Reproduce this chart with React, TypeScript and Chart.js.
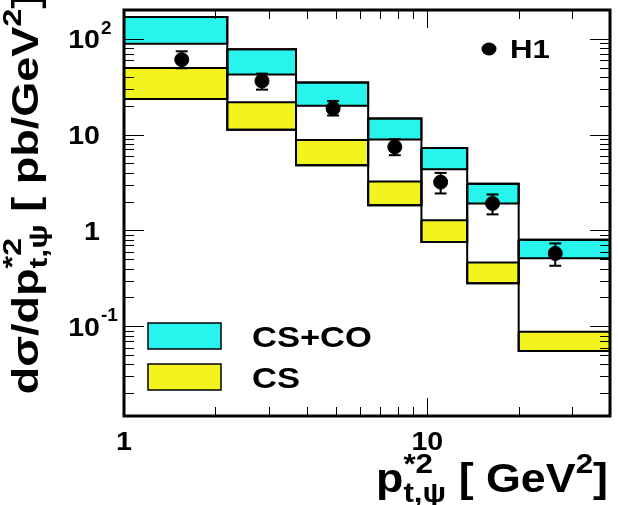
import React, { useEffect, useRef } from 'react';
import { Chart, registerables } from 'chart.js';

Chart.register(...registerables);

// ---- data ----
const binEdges = [1, 2.19, 3.69, 6.38, 9.56, 13.53, 20, 40];
const csCoUpper = [168, 77.4, 34.8, 14.7, 7.25, 3.06, 0.798];
const csCoLower = [88.7, 42.2, 20.0, 8.87, 4.35, 1.91, 0.511];
const csUpper = [49.4, 21.7, 8.78, 3.24, 1.28, 0.464, 0.0879];
const csLower = [23.5, 11.2, 4.79, 1.83, 0.755, 0.281, 0.0553];
const h1X = [1.55, 2.85, 4.89, 7.81, 11.06, 16.4, 26.4];
const h1Y = [60.4, 36.2, 18.7, 7.43, 3.19, 1.91, 0.575];
const h1ErrHigh = [73.8, 43.2, 22.4, 8.93, 3.98, 2.37, 0.732];
const h1ErrLow = [49.1, 29.4, 15.8, 6.09, 2.43, 1.47, 0.428];

const xMin = 1;
const xMax = 40;
const yMin = 0.0116;
const yMax = 199;

const yTickValues = [0.1, 1, 10, 100];
const yTickBase = ['10', '1', '10', '10'];
const yTickExp = ['-1', '', '', '2'];
const xTickValues = [1, 10];
const xTickLabels = ['1', '10'];

const seriesLabels = ['CS+CO', 'CS', 'H1'];

const CYAN = '#27f5ed';
const YELLOW = '#f3f31d';
const FAMILY = '"Liberation Sans", Arial, Helvetica, sans-serif';

type Part = { t?: string; size?: number; dy?: number; stack?: Part[] };

function fnt(size: number) {
  return `bold ${size}px ${FAMILY}`;
}

function partWidth(ctx: CanvasRenderingContext2D, p: Part): number {
  if (p.stack) return Math.max(...p.stack.map((q) => partWidth(ctx, q)));
  ctx.font = fnt(p.size || 20);
  return ctx.measureText(p.t || '').width;
}

function richWidth(ctx: CanvasRenderingContext2D, parts: Part[]) {
  return parts.reduce((s, p) => s + partWidth(ctx, p), 0);
}

function drawParts(ctx: CanvasRenderingContext2D, parts: Part[], x: number, y: number) {
  let cx = x;
  for (const p of parts) {
    if (p.stack) {
      for (const q of p.stack) {
        ctx.font = fnt(q.size || 20);
        ctx.fillText(q.t || '', cx, y + (q.dy || 0));
      }
    } else {
      ctx.font = fnt(p.size || 20);
      ctx.fillText(p.t || '', cx, y + (p.dy || 0));
    }
    cx += partWidth(ctx, p);
  }
}

// draw rich text; align: 'left' | 'right' | 'center', anchored at (x, y baseline), stretched by sx
function drawRich(
  ctx: CanvasRenderingContext2D,
  parts: Part[],
  x: number,
  y: number,
  align: string,
  sx: number,
  rot = 0
) {
  ctx.save();
  ctx.translate(x, y);
  if (rot) ctx.rotate(rot);
  ctx.scale(sx, 1);
  ctx.textAlign = 'left';
  ctx.textBaseline = 'alphabetic';
  ctx.fillStyle = '#000';
  const w = richWidth(ctx, parts);
  const x0 = align === 'right' ? -w : align === 'center' ? -w / 2 : 0;
  drawParts(ctx, parts, x0, 0);
  ctx.restore();
}

const framePlugin = {
  id: 'rootFrame',
  afterDraw(chart: any) {
    const ctx: CanvasRenderingContext2D = chart.ctx;
    const ca = chart.chartArea;
    const xs = chart.scales.x;
    const ys = chart.scales.y;
    ctx.save();

    // ticks
    ctx.strokeStyle = '#000';
    ctx.lineWidth = 1;
    ctx.beginPath();
    for (let e = -2; e <= 2; e++) {
      for (let k = 1; k <= 9; k++) {
        const v = k * Math.pow(10, e);
        if (v < yMin || v > yMax) continue;
        const py = Math.round(ys.getPixelForValue(v)) + 0.5;
        const len = k === 1 ? 20 : 10;
        ctx.moveTo(ca.left, py);
        ctx.lineTo(ca.left + len, py);
        ctx.moveTo(ca.right, py);
        ctx.lineTo(ca.right - len, py);
      }
    }
    for (let e = 0; e <= 1; e++) {
      for (let k = 1; k <= 9; k++) {
        const v = k * Math.pow(10, e);
        if (v <= xMin || v >= xMax) continue;
        const px = Math.round(xs.getPixelForValue(v)) + 0.5;
        const len = k === 1 ? 18 : 9;
        ctx.moveTo(px, ca.bottom);
        ctx.lineTo(px, ca.bottom - len);
        ctx.moveTo(px, ca.top);
        ctx.lineTo(px, ca.top + len);
      }
    }
    ctx.stroke();

    // frame
    ctx.lineWidth = 3;
    ctx.strokeRect(ca.left, ca.top, ca.right - ca.left, ca.bottom - ca.top);

    // y tick labels
    yTickValues.forEach((v, i) => {
      const py = ys.getPixelForValue(v);
      const baseX = ca.left - 24;
      drawRich(ctx, [{ t: yTickBase[i], size: 26 }], baseX, py + 9.5, 'right', 1.1);
      if (yTickExp[i]) {
        drawRich(ctx, [{ t: yTickExp[i], size: 18 }], baseX + 1, py - 5, 'left', 1.05);
      }
    });

    // x tick labels
    xTickValues.forEach((v, i) => {
      const px = xs.getPixelForValue(v);
      drawRich(ctx, [{ t: xTickLabels[i], size: 26 }], px, ca.bottom + 34, 'center', 1.1);
    });

    // x title
    drawRich(
      ctx,
      [
        { t: 'p', size: 40 },
        { stack: [{ t: '*2', size: 28, dy: -19 }, { t: 't,ψ', size: 28, dy: 10 }] },
        { t: ' [ GeV', size: 40 },
        { t: '2', size: 28, dy: -19 },
        { t: ']', size: 40 },
      ],
      ca.right - 2,
      ca.bottom + 76,
      'right',
      1.12
    );

    // y title (rotated)
    drawRich(
      ctx,
      [
        { t: 'dσ/dp', size: 36 },
        { stack: [{ t: '*2', size: 26, dy: -17 }, { t: 't,ψ', size: 26, dy: 9 }] },
        { t: ' [ pb/GeV', size: 36 },
        { t: '2', size: 26, dy: -17 },
        { t: ']', size: 36 },
      ],
      38,
      194,
      'center',
      1.25,
      -Math.PI / 2
    );

    // legend: CS+CO and CS boxes
    const lx = ca.left + 24;
    const boxes = [
      { color: CYAN, y: ca.top + 313, label: seriesLabels[0] },
      { color: YELLOW, y: ca.top + 354, label: seriesLabels[1] },
    ];
    boxes.forEach((b) => {
      ctx.fillStyle = b.color;
      ctx.fillRect(lx, b.y, 73, 26);
      ctx.lineWidth = 1.5;
      ctx.strokeStyle = '#000';
      ctx.strokeRect(lx, b.y, 73, 26);
      drawRich(ctx, [{ t: b.label, size: 30 }], lx + 104, b.y + 24, 'left', 1.15);
    });

    // legend: H1
    ctx.fillStyle = '#000';
    ctx.beginPath();
    ctx.ellipse(ca.left + 365, ca.top + 39, 7.5, 6.5, 0, 0, Math.PI * 2);
    ctx.fill();
    drawRich(ctx, [{ t: seriesLabels[2], size: 26 }], ca.left + 386, ca.top + 48, 'left', 1.2);

    ctx.restore();
  },
};

function buildDatasets() {
  const ds: any[] = [];
  for (let i = 0; i < binEdges.length - 1; i++) {
    const lo = binEdges[i];
    const hi = binEdges[i + 1];
    const rect = (top: number, bot: number) => [
      { x: lo, y: top },
      { x: hi, y: top },
      { x: hi, y: bot },
      { x: lo, y: bot },
      { x: lo, y: top },
    ];
    ds.push({
      label: seriesLabels[0],
      data: rect(csCoUpper[i], csCoLower[i]),
      showLine: true,
      fill: 'shape',
      backgroundColor: CYAN,
      borderColor: '#000',
      borderWidth: 2,
      pointRadius: 0,
      order: 10,
    });
    ds.push({
      label: seriesLabels[1],
      data: rect(csUpper[i], csLower[i]),
      showLine: true,
      fill: 'shape',
      backgroundColor: YELLOW,
      borderColor: '#000',
      borderWidth: 2,
      pointRadius: 0,
      order: 10,
    });
    ds.push({
      label: 'outline',
      data: rect(csCoUpper[i], csLower[i]),
      showLine: true,
      fill: false,
      borderColor: '#000',
      borderWidth: 2,
      pointRadius: 0,
      order: 9,
    });
  }
  for (let i = 0; i < h1X.length; i++) {
    ds.push({
      label: 'err',
      data: [
        { x: h1X[i], y: h1ErrLow[i] },
        { x: h1X[i], y: h1ErrHigh[i] },
      ],
      showLine: true,
      borderColor: '#000',
      borderWidth: 2,
      pointStyle: 'line',
      pointRadius: 6,
      pointBorderWidth: 2,
      pointBorderColor: '#000',
      order: 2,
    });
  }
  ds.push({
    label: seriesLabels[2],
    data: h1X.map((x, i) => ({ x, y: h1Y[i] })),
    showLine: false,
    pointStyle: 'circle',
    pointRadius: 7,
    backgroundColor: '#000',
    borderColor: '#000',
    borderWidth: 1,
    order: 1,
  });
  return ds;
}

export default function App() {
  const ref = useRef<HTMLCanvasElement | null>(null);
  useEffect(() => {
    if (!ref.current) return;
    const chart = new Chart(ref.current, {
      type: 'scatter',
      data: { datasets: buildDatasets() },
      options: {
        animation: false,
        responsive: false,
        maintainAspectRatio: false,
        devicePixelRatio: 1,
        layout: { padding: { left: 124, top: 10, right: 6, bottom: 89 } },
        plugins: { legend: { display: false }, tooltip: { enabled: false } },
        scales: {
          x: { type: 'logarithmic', min: xMin, max: xMax, display: false },
          y: { type: 'logarithmic', min: yMin, max: yMax, display: false },
        },
      },
      plugins: [framePlugin],
    });
    return () => chart.destroy();
  }, []);
  return (
    <div style={{ position: 'fixed', left: 0, top: 0, width: 618, height: 505, background: '#fff' }}>
      <canvas ref={ref} width={618} height={505} style={{ width: 618, height: 505, display: 'block' }} />
    </div>
  );
}
